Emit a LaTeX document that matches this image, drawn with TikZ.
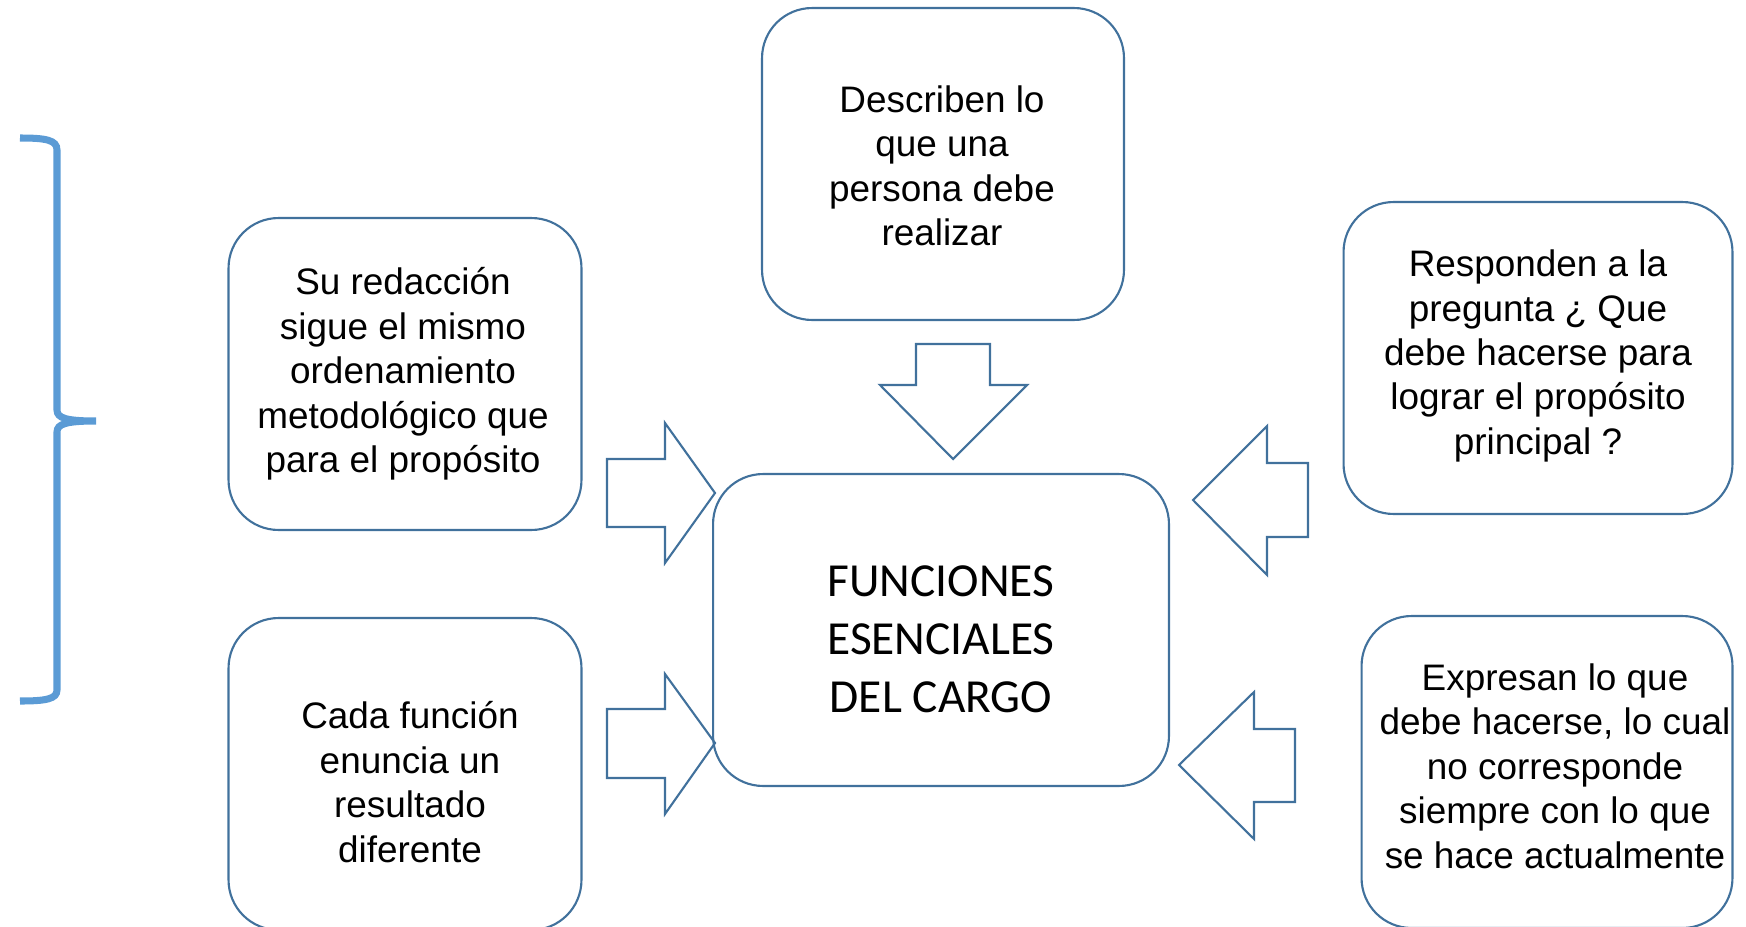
\documentclass[tikz,border=0pt]{standalone}
\usepackage{fontspec}
\setmainfont{Liberation Sans}
\newfontfamily\calibrifont{Carlito}
\definecolor{boxblue}{RGB}{65,113,156}
\definecolor{braceblue}{RGB}{91,155,213}
\tikzset{
	funcbox/.style={draw=boxblue, line width=1.2pt, rounded corners=1cm, inner sep=0pt, minimum height=6.24cm},
	boxtext/.style={align=center, inner sep=0pt, font=\fontsize{21}{25.3}\selectfont},
	blockarrow/.style={draw=boxblue, line width=1.2pt, line join=miter}
}
\begin{document}
\begin{tikzpicture}[x=0.02cm, y=-0.02cm]
	\useasboundingbox (0,0) rectangle (1746,926);

	%the brace on the left
	\draw[braceblue, line width=4pt] (20,138) .. controls (46,138) and (57,140) .. (57,150) -- (57,410)
		.. controls (57,418) and (66,421) .. (96,421) .. controls (66,421) and (57,424) .. (57,432)
		-- (57,690) .. controls (57,699) and (46,701) .. (20,701);

	%central box
	\node[funcbox, minimum width=9.12cm] (funciones) at (941,630) {};
	\node[boxtext, font=\calibrifont\fontsize{27}{33}\selectfont] (funciones-txt) at (941,639)
		{FUNCIONES\\ESENCIALES\\DEL CARGO};

	%boxes round it
	\node[funcbox, minimum width=7.24cm] (describen) at (943,164) {};
	\node[boxtext] (describen-txt) at (942,166) {Describen lo\\que una\\persona debe\\realizar};

	\node[funcbox, minimum width=7.06cm] (redaccion) at (405,374) {};
	\node[boxtext] (redaccion-txt) at (403,374) {Su redacción\\sigue el mismo\\ordenamiento\\metodológico que\\para el propósito};

	\node[funcbox, minimum width=7.06cm] (cada) at (405,774) {};
	\node[boxtext] (cada-txt) at (410,782) {Cada función\\enuncia un\\resultado\\diferente};

	\node[funcbox, minimum width=7.78cm] (responden) at (1538,358) {};
	\node[boxtext] (responden-txt) at (1538,356) {Responden a la\\pregunta ¿ Que\\debe hacerse para\\lograr el propósito\\principal ?};

	\node[funcbox, minimum width=7.42cm] (expresan) at (1547,772) {};
	\node[boxtext] (expresan-txt) at (1555,766) {Expresan lo que\\debe hacerse, lo cual\\no corresponde\\siempre con lo que\\se hace actualmente};

	%block arrows pointing at the central box
	\draw[blockarrow] (916,344) -- (990,344) -- (990,385) -- (1027,385) -- (953,459) -- (880,385) -- (916,385) -- cycle;
	\draw[blockarrow] (607,459) -- (665,459) -- (665,423) -- (715,493) -- (665,563) -- (665,527) -- (607,527) -- cycle;
	\draw[blockarrow] (607,709) -- (665,709) -- (665,674) -- (715,743) -- (665,814) -- (665,778) -- (607,778) -- cycle;
	\draw[blockarrow] (1308,463) -- (1267,463) -- (1267,426) -- (1193,500) -- (1267,575) -- (1267,537) -- (1308,537) -- cycle;
	\draw[blockarrow] (1295,729) -- (1254,729) -- (1254,692) -- (1179,765) -- (1254,839) -- (1254,802) -- (1295,802) -- cycle;
\end{tikzpicture}
\end{document}
